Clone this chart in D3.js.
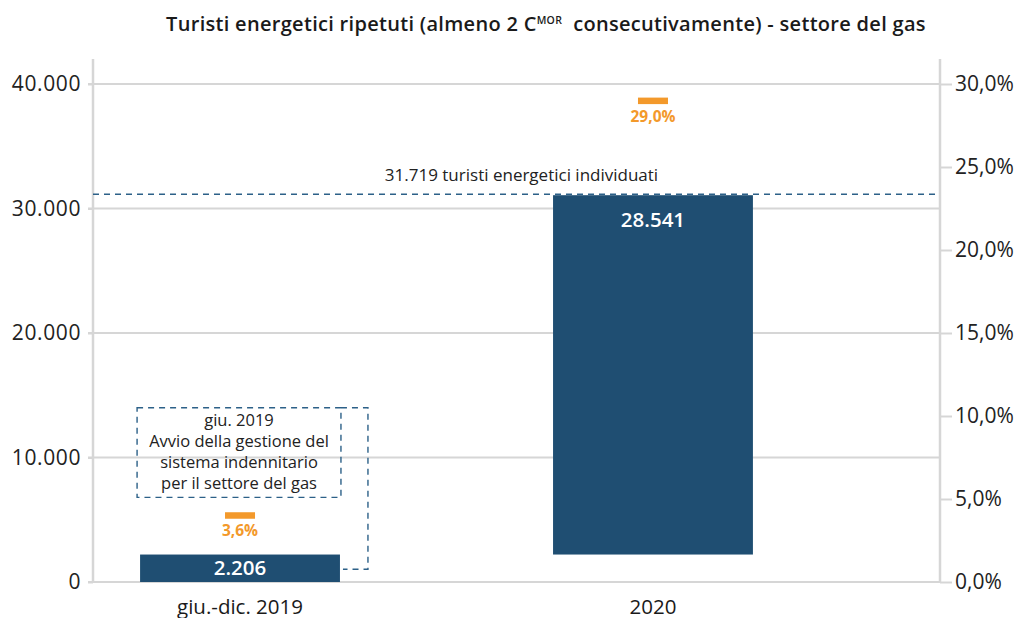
<!DOCTYPE html>
<html>
<head>
<meta charset="utf-8">
<script src="https://cdn.jsdelivr.net/npm/d3@7"></script>
<style>
  body { margin: 0; background: #fff; }
  svg text { font-family: "Open Sans", Lato, sans-serif; }
</style>
</head>
<body>
<div id="chart"></div>
<script>
// data
const categories = ["giu.-dic. 2019", "2020"];
const baseValues = [0, 2206];          // where each bar starts
const barValues = [2206, 28541];       // bar length
const shareValues = [3.6, 29.0];       // % on right axis
const leftTicks = [0, 10000, 20000, 30000, 40000];
const rightTicks = [0, 5, 10, 15, 20, 25, 30];
const refLabel = "31.719 turisti energetici individuati";
const noteLines = ["giu. 2019", "Avvio della gestione del", "sistema indennitario", "per il settore del gas"];

const width = 1017;
const height = 618;

const fmtInt = d => d3.format(",")(d).replace(/,/g, ".");
const fmtPct = d => d.toFixed(1).replace(".", ",") + "%";

const svg = d3.select("#chart")
    .append("svg")
    .attr("width", width)
    .attr("height", height);

const x = d3.scaleBand()
    .domain(categories)
    .range([93, 800])
    .paddingInner(0.516)
    .paddingOuter(0.114);

const y = d3.scaleLinear()
    .domain([0, 40000])
    .range([582, 84]);

const yR = d3.scaleLinear()
    .domain([0, 30])
    .range([582, 84]);

const plotLeft = 93;
const plotRight = 940;
const grey = "#d6d6d6";
const navy = "#1f4e72";
const orange = "#f3992b";
const dashBlue = "#2c6088";

// title
svg.append("text")
    .attr("x", 546)
    .attr("y", 31)
    .attr("text-anchor", "middle")
    .attr("font-size", 20)
    .attr("font-weight", 600)
    .attr("letter-spacing", 0.3)
    .attr("fill", "#1a1a1a")
    .call(t => {
        t.append("tspan").text("Turisti energetici ripetuti (almeno 2 C");
        t.append("tspan").attr("font-size", 10.5).attr("dy", -7).text("MOR");
        t.append("tspan").attr("dy", 7).text("\u00a0 consecutivamente) - settore del gas");
    });

// gridlines
svg.append("g")
    .selectAll("line")
    .data(leftTicks)
    .join("line")
    .attr("x1", plotLeft - 5)
    .attr("x2", plotRight)
    .attr("y1", d => y(d))
    .attr("y2", d => y(d))
    .attr("stroke", grey)
    .attr("stroke-width", 2);

// left axis
const leftAxis = svg.append("g")
    .attr("transform", `translate(${plotLeft},0)`)
    .call(d3.axisLeft(y).tickValues(leftTicks).tickFormat(fmtInt).tickSize(5).tickPadding(7));
leftAxis.select(".domain").remove();
leftAxis.selectAll(".tick line").attr("stroke", grey).attr("stroke-width", 2);
leftAxis.selectAll(".tick text")
    .attr("font-size", 21)
    .attr("letter-spacing", 0.6)
    .attr("fill", "#222")
    .attr("font-family", "'Open Sans', sans-serif");

// right axis
const rightAxis = svg.append("g")
    .attr("transform", `translate(${plotRight},0)`)
    .call(d3.axisRight(yR).tickValues(rightTicks).tickFormat(fmtPct).tickSize(12).tickPadding(3));
rightAxis.select(".domain").remove();
rightAxis.selectAll(".tick line").attr("stroke", grey).attr("stroke-width", 2);
rightAxis.selectAll(".tick text")
    .attr("font-size", 21)
    .attr("fill", "#222")
    .attr("font-family", "'Open Sans', sans-serif");

// vertical axis lines
[plotLeft, plotRight].forEach(px => {
    svg.append("line")
        .attr("x1", px).attr("x2", px)
        .attr("y1", 59).attr("y2", y(0) + 1)
        .attr("stroke", grey)
        .attr("stroke-width", 2.5);
});

// bars
svg.append("g")
    .selectAll("rect")
    .data(categories)
    .join("rect")
    .attr("x", d => x(d))
    .attr("width", x.bandwidth())
    .attr("y", (d, i) => y(baseValues[i] + barValues[i]) - (i === 1 ? 4 : 0))
    .attr("height", (d, i) => y(baseValues[i]) - y(baseValues[i] + barValues[i]) + (i === 1 ? 4 : 0))
    .attr("fill", navy);

// bar labels
svg.append("g")
    .selectAll("text")
    .data(categories)
    .join("text")
    .attr("x", d => x(d) + x.bandwidth() / 2)
    .attr("y", (d, i) => i === 0
        ? y(baseValues[i] + barValues[i] / 2) + 7
        : y(baseValues[i] + barValues[i]) + 28)
    .attr("text-anchor", "middle")
    .attr("font-size", 20.5)
    .attr("font-weight", 600)
    .attr("fill", "#fff")
    .text((d, i) => fmtInt(barValues[i]));

// share markers
svg.append("g")
    .selectAll("rect")
    .data(categories)
    .join("rect")
    .attr("x", d => x(d) + x.bandwidth() / 2 - 15)
    .attr("width", 30)
    .attr("y", (d, i) => yR(shareValues[i]) - 3 - (i === 0 ? 7 : 0))
    .attr("height", 6.5)
    .attr("fill", orange);

svg.append("g")
    .selectAll("text")
    .data(categories)
    .join("text")
    .attr("x", d => x(d) + x.bandwidth() / 2)
    .attr("y", (d, i) => yR(shareValues[i]) + 21 - (i === 0 ? 7 : 0))
    .attr("text-anchor", "middle")
    .attr("font-size", 15.5)
    .attr("font-weight", 700)
    .attr("fill", orange)
    .text((d, i) => fmtPct(shareValues[i]));

// category labels
svg.append("g")
    .selectAll("text")
    .data(categories)
    .join("text")
    .attr("x", d => x(d) + x.bandwidth() / 2)
    .attr("y", 614)
    .attr("text-anchor", "middle")
    .attr("font-size", 20.5)
    .attr("fill", "#1a1a1a")
    .text(d => d);

// reference line at the top of the 2020 bar
const refY = y(baseValues[1] + barValues[1]) - 5;
svg.append("line")
    .attr("x1", plotLeft)
    .attr("x2", plotRight)
    .attr("y1", refY)
    .attr("y2", refY)
    .attr("stroke", dashBlue)
    .attr("stroke-width", 1.6)
    .attr("stroke-dasharray", "6,5");

svg.append("text")
    .attr("x", (plotLeft + plotRight) / 2 + 5)
    .attr("y", refY - 13)
    .attr("text-anchor", "middle")
    .attr("font-size", 17)
    .attr("fill", "#222")
    .text(refLabel);

// note box with connector to the first bar
const bx0 = x(categories[0]) - 3;
const bx1 = x(categories[0]) + x.bandwidth() + 1;
const by0 = y(14000);
const by1 = y(6800);
const cx = x(categories[0]) + x.bandwidth() + 28;

svg.append("rect")
    .attr("x", bx0)
    .attr("y", by0)
    .attr("width", bx1 - bx0)
    .attr("height", by1 - by0)
    .attr("fill", "none")
    .attr("stroke", dashBlue)
    .attr("stroke-width", 1.4)
    .attr("stroke-dasharray", "6,5");

svg.append("path")
    .attr("d", `M${bx1},${by0}H${cx}V${y(barValues[0] / 2) + 1}H${bx1 + 2}`)
    .attr("fill", "none")
    .attr("stroke", dashBlue)
    .attr("stroke-width", 1.4)
    .attr("stroke-dasharray", "6,5");

svg.append("g")
    .selectAll("text")
    .data(noteLines)
    .join("text")
    .attr("x", (bx0 + bx1) / 2)
    .attr("y", (d, i) => by0 + 18 + i * 21)
    .attr("text-anchor", "middle")
    .attr("font-size", 16.5)
    .attr("fill", "#222")
    .text(d => d);
</script>
</body>
</html>
